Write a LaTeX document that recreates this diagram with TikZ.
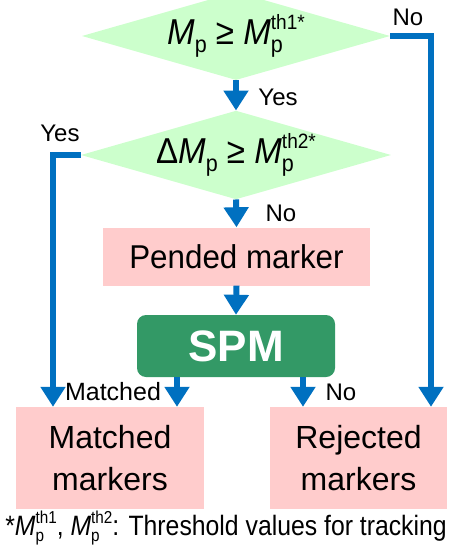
\documentclass[tikz,border=0pt]{standalone}
\usepackage{relsize}
\usepackage{fontspec}
\setmainfont{Liberation Sans}
\newfontfamily\narrowfont[FakeStretch=0.92]{Liberation Sans}
\newfontfamily\notefont[FakeStretch=0.885]{Liberation Sans}
\newfontfamily\boxfont[FakeStretch=0.95]{Liberation Sans}
\usetikzlibrary{arrows.meta,shapes.geometric,calc}

\definecolor{flowblue}{HTML}{0070C0}
\definecolor{testgreen}{HTML}{CCFFCC}
\definecolor{boxpink}{HTML}{FFCCCC}
\definecolor{spmgreen}{HTML}{339966}

% marker quantities
\newcommand{\Msub}{\raisebox{-0.22em}{\textscale{0.65}{p}}}
\newcommand{\Mp}{\textit{M}\Msub}
\newcommand{\Mth}[1]{\textit{M}\rlap{\Msub}\raisebox{0.42em}{\textscale{0.6}{th#1}}}

\begin{document}
\begin{tikzpicture}[x=1pt, y=-1pt,
  test/.style={diamond, fill=testgreen, inner sep=0pt, aspect=3.5,
    minimum width=308pt, minimum height=88pt,
    font=\narrowfont\fontsize{36}{40}\selectfont},
  pendbox/.style={fill=boxpink, minimum width=267pt, minimum height=58pt,
    font=\boxfont\fontsize{33}{38}\selectfont},
  spmbox/.style={fill=spmgreen, rounded corners=9pt, text=white,
    minimum width=198pt, minimum height=62pt,
    font=\bfseries\fontsize{44}{48}\selectfont},
  result/.style={fill=boxpink, minimum height=102pt, align=center,
    font=\fontsize{32}{42}\selectfont},
  flow/.style={line width=6pt, flowblue, -{Triangle[width=24pt,length=20pt]}},
  lbl/.style={font=\fontsize{24}{28}\selectfont, inner sep=0pt}]
  \def\Xc{236};
  \useasboundingbox (0,0) rectangle (451,553);

  % the two tests
  \node[test] (t1) at (\Xc, 36) {\Mp\ ≥ \Mth{1*}};
  \node[test] (t2) at (\Xc, 155) {Δ\Mp\ ≥ \Mth{2*}};

  % boxes
  \node[pendbox] (pend) at (236.5, 256.5) {Pended marker};
  \node[spmbox] (spm) at (\Xc, 346) {SPM};
  \node[result, minimum width=188pt] (mat) at (110, 458) {Matched\\markers};
  \node[result, minimum width=177pt] (rej) at (358.5, 458) {Rejected\\markers};

  % bends of the side branches
  \coordinate (noR) at (431, 36);
  \coordinate (yesL) at (53, 155);
  \coordinate (sL) at ($(spm.south)+(-59,0)$);
  \coordinate (sR) at ($(spm.south)+(67,0)$);

  % arrows
  \draw[flow] (t1.south) -- (t2.north);
  \draw[flow] (t2.south) -- (pend.north);
  \draw[flow] (pend.south) -- (spm.north);
  \draw[flow] (t1.east) -- (noR) -- (noR |- rej.north);
  \draw[flow] (t2.west) -- (yesL) -- (yesL |- mat.north);
  \draw[flow] (sL) -- (sL |- mat.north);
  \draw[flow] (sR) -- (sR |- rej.north);

  % labels
  \node[lbl] (no1) at (408, 17) {No};
  \node[lbl] (yes1) at (278, 97) {Yes};
  \node[lbl] (yes2) at (60, 133) {Yes};
  \node[lbl] (no2) at (281, 213) {No};
  \node[lbl, font=\fontsize{25}{28}\selectfont] (match) at (113, 392) {Matched};
  \node[lbl] (no3) at (341, 392) {No};

  % footnote
  \node[anchor=base, inner sep=0pt, font=\notefont\fontsize{28}{32}\selectfont]
    (note) at (226, 535) {*\Mth{1}, \Mth{2}: Threshold values for tracking};
\end{tikzpicture}
\end{document}
